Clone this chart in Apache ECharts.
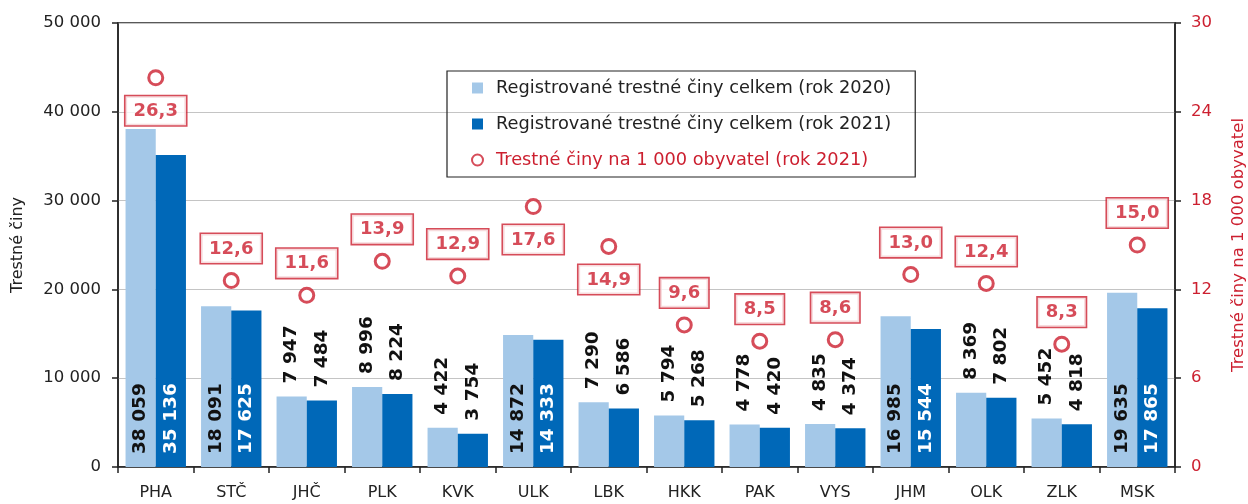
<!DOCTYPE html>
<html><head><meta charset="utf-8">
<script src="https://cdn.jsdelivr.net/npm/echarts@6/dist/echarts.min.js"></script>
<style>html,body{margin:0;padding:0;background:#fff}#c{width:1248px;height:504px}</style>
</head><body><div id="c"></div>
<script>
const categories = ['PHA','STČ','JHČ','PLK','KVK','ULK','LBK','HKK','PAK','VYS','JHM','OLK','ZLK','MSK'];
const crimes2020 = [38059,18091,7947,8996,4422,14872,7290,5794,4778,4835,16985,8369,5452,19635];
const crimes2021 = [35136,17625,7484,8224,3754,14333,6586,5268,4420,4374,15544,7802,4818,17865];
const per1000 = [26.3,12.6,11.6,13.9,12.9,17.6,14.9,9.6,8.5,8.6,13.0,12.4,8.3,15.0];
const seriesNames = ['Registrované trestné činy celkem (rok 2020)','Registrované trestné činy celkem (rok 2021)','Trestné činy na 1 000 obyvatel (rok 2021)'];
const labelsBelow = ['PHA','ULK','LBK'];

const FONT = 'DejaVu Sans';
const RED = '#cc1f2f';
const fmt = v => String(v).replace(/\B(?=(\d{3})+(?!\d))/g, ' ');
const INSIDE_MIN = 14000;

function barData(arr, insideColor) {
  return arr.map(v => {
    const inside = v >= INSIDE_MIN;
    return {
      value: v,
      label: inside ? {
        position: 'insideBottom', distance: 13, color: insideColor
      } : {
        position: 'top', distance: 13, color: '#111'
      }
    };
  });
}
const barLabel = {
  show: true, rotate: 90, align: 'left', verticalAlign: 'middle',
  fontFamily: FONT, fontWeight: 'bold', fontSize: 18.5,
  formatter: p => fmt(p.value)
};

const chart = echarts.init(document.getElementById('c'));
chart.setOption({
  animation: false,
  textStyle: { fontFamily: FONT },
  grid: { left: 118, right: 73, top: 23, bottom: 37, show: true, borderColor: '#222', borderWidth: 1.5,
          containLabel: false, outerBoundsMode: 'none' },
  legend: {
    orient: 'vertical', left: 447, top: 71,
    borderColor: '#222', borderWidth: 1.2,
    padding: [8, 24, 8, 24], itemGap: 18,
    itemWidth: 11, itemHeight: 11,
    textStyle: { fontFamily: FONT, fontSize: 17.8, color: '#222', padding: [0, 0, 0, 8] },
    data: [
      { name: seriesNames[0], icon: 'rect' },
      { name: seriesNames[1], icon: 'rect' },
      { name: seriesNames[2], textStyle: { color: RED } }
    ]
  },
  xAxis: {
    type: 'category', data: categories,
    axisLine: { lineStyle: { color: '#222', width: 1.5 } },
    axisTick: { show: true, length: 6, lineStyle: { color: '#222', width: 1.5 } },
    axisLabel: { color: '#222', fontSize: 16, margin: 18, fontFamily: FONT }
  },
  yAxis: [
    {
      type: 'value', min: 0, max: 50000, interval: 10000,
      name: 'Trestné činy', nameLocation: 'middle', nameGap: 92,
      nameTextStyle: { color: '#222', fontSize: 16, fontFamily: FONT },
      axisLine: { show: true, lineStyle: { color: '#222', width: 1.5 } },
      axisTick: { show: true, length: 6, lineStyle: { color: '#222', width: 1.5 } },
      axisLabel: { color: '#222', fontSize: 16.5, margin: 17, formatter: v => fmt(v), fontFamily: FONT },
      splitLine: { lineStyle: { color: '#c4c4c4', width: 1.2 } }
    },
    {
      type: 'value', min: 0, max: 30, interval: 6, position: 'right',
      name: 'Trestné činy na 1 000 obyvatel', nameLocation: 'middle', nameGap: 55, nameRotate: 90,
      nameTextStyle: { color: RED, fontSize: 16.5, fontFamily: FONT },
      axisLine: { show: true, lineStyle: { color: '#222', width: 1.5 } },
      axisTick: { show: true, length: 6, lineStyle: { color: '#222', width: 1.5 } },
      axisLabel: { color: RED, fontSize: 16.5, margin: 16, fontFamily: FONT },
      splitLine: { show: false }
    }
  ],
  series: [
    {
      name: seriesNames[0], type: 'bar', yAxisIndex: 0,
      barGap: '0%', barCategoryGap: '20%',
      itemStyle: { color: '#a4c8e8' },
      label: barLabel,
      data: barData(crimes2020, '#111')
    },
    {
      name: seriesNames[1], type: 'bar', yAxisIndex: 0,
      itemStyle: { color: '#0068b8' },
      label: barLabel,
      data: barData(crimes2021, '#fff')
    },
    {
      name: seriesNames[2], type: 'scatter', yAxisIndex: 1,
      symbol: 'circle', symbolSize: 14,
      itemStyle: { color: '#fff', borderColor: RED, borderWidth: 3 },
      label: {
        show: true, position: 'top', distance: 9,
        color: RED, fontWeight: 'bold', fontSize: 18, fontFamily: FONT,
        backgroundColor: '#fff', borderColor: RED, borderWidth: 1.6,
        padding: [6, 8, 5, 8],
        formatter: p => p.value.toFixed(1).replace('.', ',')
      },
      data: per1000.map((v, i) => labelsBelow.includes(categories[i])
        ? { value: v, label: { position: 'bottom', distance: 10 } } : v),
      z: 5
    }
  ]
});
</script></body></html>
